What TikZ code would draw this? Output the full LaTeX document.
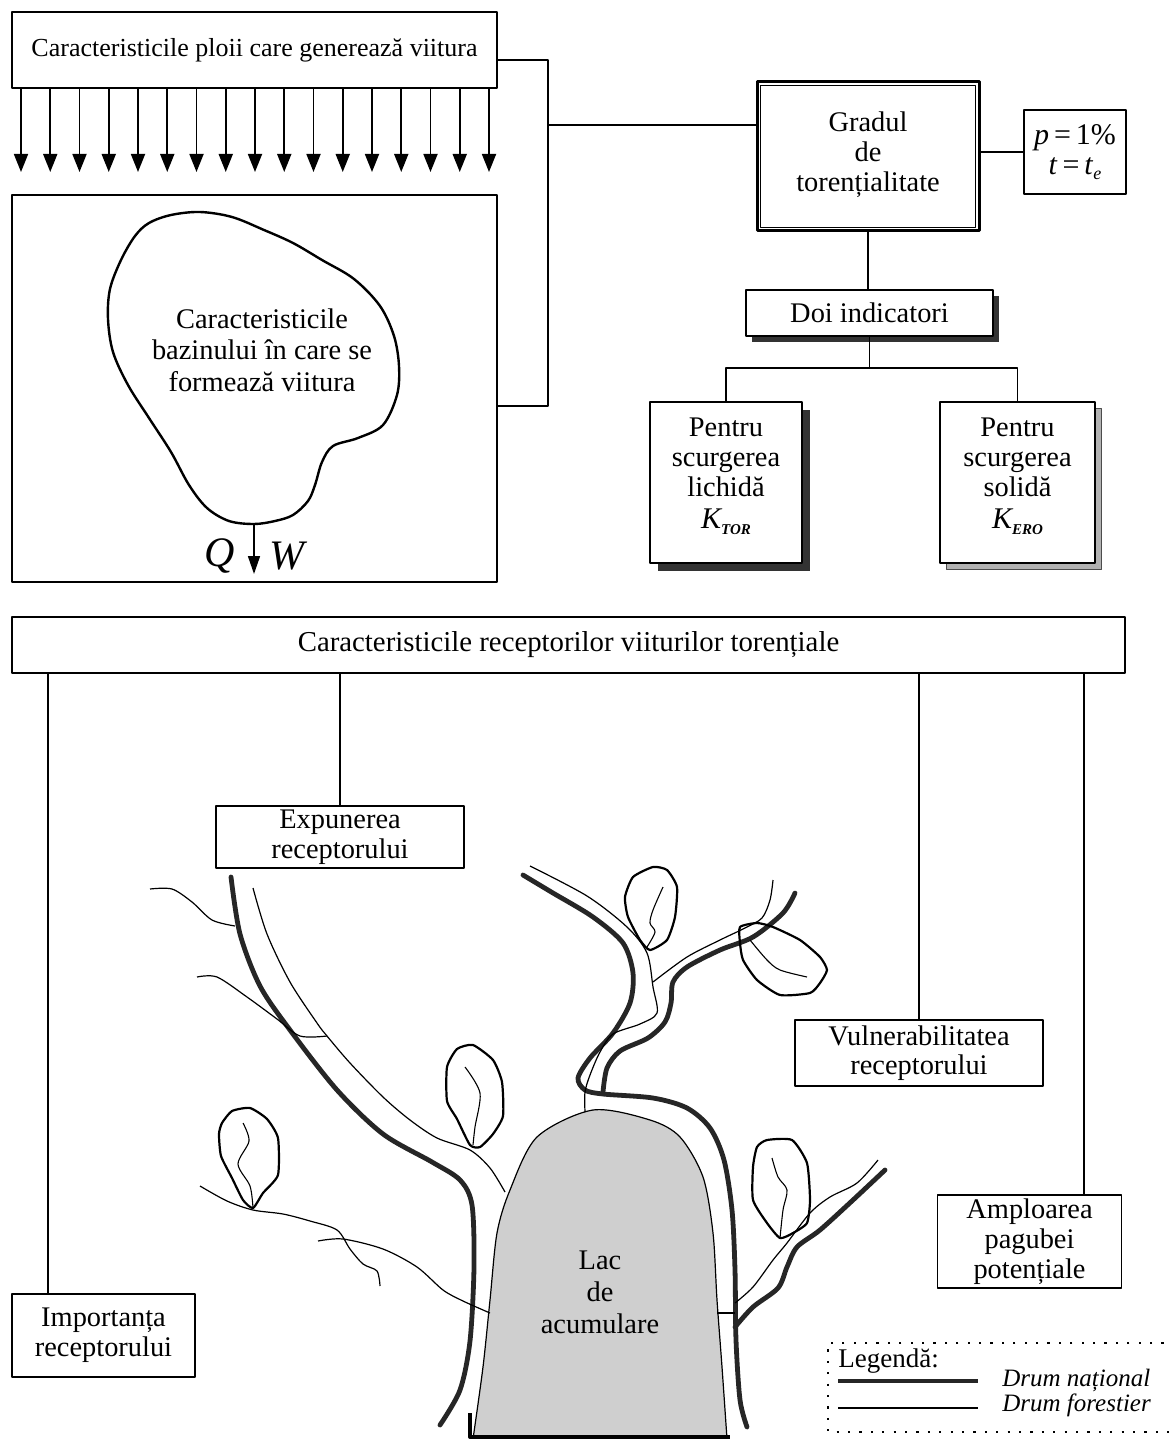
\documentclass[tikz,border=0pt]{standalone}
\usepackage{fontspec}
\setmainfont{Liberation Serif}
\usetikzlibrary{arrows.meta,shadows}
\newcommand\bxfont{\fontsize{14.2}{14.8}\selectfont}
\newcommand\mysub[1]{\raisebox{-0.45ex}{\fontsize{7.5}{8}\selectfont\bfseries\itshape #1}}
\begin{document}
\begin{tikzpicture}[x=0.5pt,y=-0.5pt,line join=round,
  bx/.style={draw,line width=0.8pt,fill=white,inner sep=0pt,align=center,font=\bxfont},
  txt/.style={align=center,inner sep=0pt,font=\bxfont},
  conn/.style={line width=0.7pt},
  rainarrow/.style={line width=0.9pt,-{Triangle[width=7pt,length=9pt]}},
  nat/.style={line width=2.4pt,line cap=round,black!85},
  forest/.style={line width=0.6pt},
  leaf/.style={line width=1.1pt},
  vein/.style={line width=0.55pt},
  legdot/.style={line width=1.1pt,dash pattern=on 1.1pt off 4.6pt,line cap=butt}]
\useasboundingbox (0,0) rectangle (1170,1439);
\fill[white] (0,0) rectangle (1170,1439);

% ---------- top left ----------
\node[bx,minimum width=242.5pt,minimum height=38pt,font=\fontsize{13}{14}\selectfont] (rain) at (254.5,50) {Caracteristicile ploii care generează viitura};
\node[bx,minimum width=242.5pt,minimum height=193.5pt] (basin) at (254.5,388.5) {};
\foreach \i in {0,...,16}{
  \pgfmathsetmacro\xx{21+29.25*\i}
  \draw[rainarrow] (rain.south -| \xx,0) -- (\xx,172);
}
\draw[line width=1.2pt] plot[smooth cycle,tension=0.55] coordinates {
 (149,223) (171,215) (200,212) (232,217) (264,230) (293,243) (322,260) (354,279)
 (380,306) (394,336) (399,366) (397,395) (383,425) (358,438) (333,446) (322,462)
 (315,485) (308,501) (293,515) (275,521) (254,524) (229,521) (207,508) (189,485)
 (171,452) (149,418) (128,385) (113,352) (108,319) (110,289) (121,260) (135,236)};
\node[txt,font=\fontsize{14.2}{15.8}\selectfont] (btxt) at (262,350) {Caracteristicile\\bazinului în care se\\formează viitura};
\coordinate (outlet) at (254,524);
\draw[line width=0.8pt,-{Triangle[width=6pt,length=9pt]}] (outlet) -- (254,574);
\node[font=\fontsize{21}{21}\selectfont\itshape,inner sep=0pt] (Q) at (220,556) {Q};
\node[font=\fontsize{21}{21}\selectfont\itshape,inner sep=0pt] (W) at (287,556) {W};

% ---------- top right ----------
\node[bx,line width=1.5pt,minimum width=111pt,minimum height=74.5pt] (grad) at (868,156.5) {};
\node[txt,font=\fontsize{14.2}{15}\selectfont] (gradtxt) at (868,155) {Gradul\\de\\torențialitate};
\draw[line width=0.5pt] ([shift={(2.6pt,-2.6pt)}]grad.north west) rectangle ([shift={(-2.6pt,2.6pt)}]grad.south east);
\node[bx,minimum width=51pt,minimum height=42pt,font=\fontsize{15}{15}\selectfont] (pbox) at (1075,152) {\textit{p}\,=\,1\%\\\textit{t}\,=\,\textit{t}\raisebox{-0.4ex}{\fontsize{9}{9}\selectfont\itshape e}};
\node[bx,minimum width=123.5pt,minimum height=23pt,drop shadow={shadow xshift=3pt,shadow yshift=-3pt,fill=black!80,opacity=1}] (doi) at (869.5,313) {Doi indicatori};
\node[bx,minimum width=76pt,minimum height=80.5pt,drop shadow={shadow xshift=4pt,shadow yshift=-4pt,fill=black!80,opacity=1}] (kl) at (726,482.5) {};
\node[txt,font=\fontsize{14.2}{15}\selectfont] (kltxt) at (726,476) {Pentru\\scurgerea\\lichidă\\[1pt]{\fontsize{15}{15}\selectfont\itshape K}\mysub{TOR}};
\node[bx,minimum width=77.5pt,minimum height=80.5pt,drop shadow={shadow xshift=3pt,shadow yshift=-3pt,fill=black!30,draw=black!70,line width=0.4pt,opacity=1}] (kr) at (1017.5,482.5) {};
\node[txt,font=\fontsize{14.2}{15}\selectfont] (krtxt) at (1017.5,476) {Pentru\\scurgerea\\solidă\\[1pt]{\fontsize{15}{15}\selectfont\itshape K}\mysub{ERO}};

\draw[conn] ([yshift=-5pt]rain.east) -| (548,406) -- (basin.east |- 0,406);
\draw[conn] (548,125) -- (grad.west |- 0,125);
\draw[conn] (grad.east |- pbox.west) -- (pbox.west);
\draw[conn] (grad.south) -- (grad.south |- doi.north);
\coordinate (split) at (doi.south |- 0,368);
\draw[conn] (doi.south) -- (split);
\draw[conn] (kl.north) |- (split) -| (kr.north);

% ---------- receptors ----------
\node[bx,minimum width=556.5pt,minimum height=28pt,font=\fontsize{14.4}{15}\selectfont] (rec) at (568.5,645) {Caracteristicile receptorilor viiturilor torențiale};
\node[bx,minimum width=124pt,minimum height=31pt] (exp) at (340,837) {Expunerea\\receptorului};
\node[bx,minimum width=124pt,minimum height=33pt] (vul) at (919,1053) {Vulnerabilitatea\\receptorului};
\node[bx,minimum width=92pt,minimum height=46.5pt,font=\fontsize{14.2}{15}\selectfont] (amp) at (1029.5,1241.5) {Amploarea\\pagubei\\potențiale};
\node[bx,minimum width=91.5pt,minimum height=41.5pt] (imp) at (103.5,1335.5) {Importanța\\receptorului};
\draw[conn] (rec.south -| 48,0) -- (imp.north -| 48,0);
\draw[conn] (rec.south -| exp.north) -- (exp.north);
\draw[conn] (rec.south -| vul.north) -- (vul.north);
\draw[conn] (rec.south -| 1084,0) -- (amp.north -| 1084,0);

% ---------- lake ----------
\draw[fill=gray!38,line width=0.6pt] plot[smooth] coordinates {(473,1439) (483,1367) (490,1300) (497,1233) (510,1190) (537,1137) (593,1110) (650,1120) (680,1137) (703,1177) (713,1233) (717,1300) (722,1367) (727,1439)} -- cycle;
\node[txt,font=\fontsize{14.2}{16}\selectfont] (lake) at (600,1292) {Lac\\de\\acumulare};
\draw[line width=2pt] (470,1413) -- (470,1437) -- (730,1437);

% ---------- roads ----------
\draw[nat] plot[smooth] coordinates {(231,877) (240,934) (260,986) (290,1030) (337,1090) (383,1134) (432,1162) (460,1180) (472,1205) (474,1267) (470,1341) (460,1390) (440,1425)};
\draw[forest] plot[smooth] coordinates {(253,888) (267,934) (290,982) (317,1023) (327,1036) (350,1063) (383,1097) (410,1120) (437,1138) (470,1150) (490,1168) (505,1192)};
\draw[forest] plot[smooth] coordinates {(150,889) (172,889) (192,902) (212,920) (235,926)};
\draw[forest] plot[smooth] coordinates {(197,977) (217,977) (247,997) (277,1019) (300,1036) (327,1036)};
\draw[forest] plot[smooth] coordinates {(200,1186) (227,1201) (253,1210) (283,1214) (310,1221) (337,1230) (350,1249) (363,1264) (377,1271) (380,1286)};
\draw[forest] plot[smooth] coordinates {(318,1241) (343,1239) (383,1249) (417,1267) (443,1290) (463,1301) (490,1313)};

\draw[nat] plot[smooth] coordinates {(523,875) (553,893) (593,917) (623,943) (633,973) (630,1003) (613,1033) (590,1058) (578,1078) (585,1090) (603,1094) (653,1098) (687,1108) (710,1128) (724,1160) (732,1210) (735,1270) (736,1340) (740,1400) (747,1427)};
\draw[nat] plot[smooth] coordinates {(795,893) (783,913) (753,937) (720,950) (687,967) (673,982) (671,1003) (665,1022) (648,1038) (620,1051) (607,1068) (603,1092)};
\draw[forest] plot[smooth] coordinates {(530,866) (587,896) (627,927) (647,953) (653,987) (657,1013) (640,1024) (613,1034) (600,1052) (590,1075) (585,1092) (585,1112)};
\draw[forest] plot[smooth] coordinates {(653,982) (687,957) (720,940) (745,928) (762,918) (770,900) (773,880)};
\draw[nat] plot[smooth] coordinates {(735,1327) (753,1307) (778,1288) (787,1267) (797,1247) (820,1230) (853,1200) (885,1170)};
\draw[forest] plot[smooth] coordinates {(735,1303) (753,1287) (773,1260) (787,1243) (810,1213) (830,1197) (857,1183) (878,1160)};
\draw[forest] (717,1313) -- (735,1313);

% ---------- leaves ----------
\draw[leaf] plot[smooth cycle,tension=0.35] coordinates {(222,1123) (232,1111) (250,1108) (267,1119) (278,1138) (278,1175) (263,1193) (253,1208) (243,1200) (232,1178) (221,1156) (219,1134)};
\draw[vein] plot[smooth] coordinates {(243,1123) (249,1141) (238,1164) (250,1186) (253,1208)};
\draw[leaf] plot[smooth cycle,tension=0.35] coordinates {(447,1067) (457,1049) (473,1045) (493,1060) (502,1082) (503,1116) (493,1134) (480,1147) (470,1145) (457,1119) (447,1101)};
\draw[vein] plot[smooth] coordinates {(465,1067) (480,1093) (475,1127) (473,1145)};
\draw[leaf] plot[smooth cycle,tension=0.35] coordinates {(633,877) (653,867) (667,870) (677,887) (675,917) (667,940) (650,950) (640,940) (628,917) (625,897)};
\draw[vein] plot[smooth] coordinates {(663,887) (653,910) (650,923) (655,932) (647,947)};
\draw[leaf] plot[smooth cycle,tension=0.35] coordinates {(740,927) (757,923) (773,927) (800,940) (820,957) (827,970) (820,983) (810,993) (780,995) (757,980) (743,960) (740,943)};
\draw[vein] plot[smooth] coordinates {(750,940) (767,960) (780,970) (807,977)};
\draw[leaf] plot[smooth cycle,tension=0.35] coordinates {(757,1147) (767,1140) (792,1140) (807,1163) (810,1200) (807,1223) (793,1233) (780,1238) (767,1223) (753,1200) (753,1167)};
\draw[vein] plot[smooth] coordinates {(772,1158) (778,1177) (787,1190) (783,1210) (780,1238)};

% ---------- legend ----------
\draw[legdot] (1175,1343) -- (828,1343) -- (828,1432) -- (1175,1432);
\node[anchor=west,font=\fontsize{13.5}{14}\selectfont,inner sep=0pt] (leg) at (838,1361) {Legendă:};
\draw[nat,line cap=butt] (838,1381) -- (978,1381);
\node[anchor=west,font=\fontsize{12.5}{13}\selectfont\itshape,inner sep=0pt] (dn) at (1002,1380) {Drum național};
\draw[forest] (838,1408) -- (978,1408);
\node[anchor=west,font=\fontsize{12.5}{13}\selectfont\itshape,inner sep=0pt] (df) at (1002,1405) {Drum forestier};
\end{tikzpicture}
\end{document}
